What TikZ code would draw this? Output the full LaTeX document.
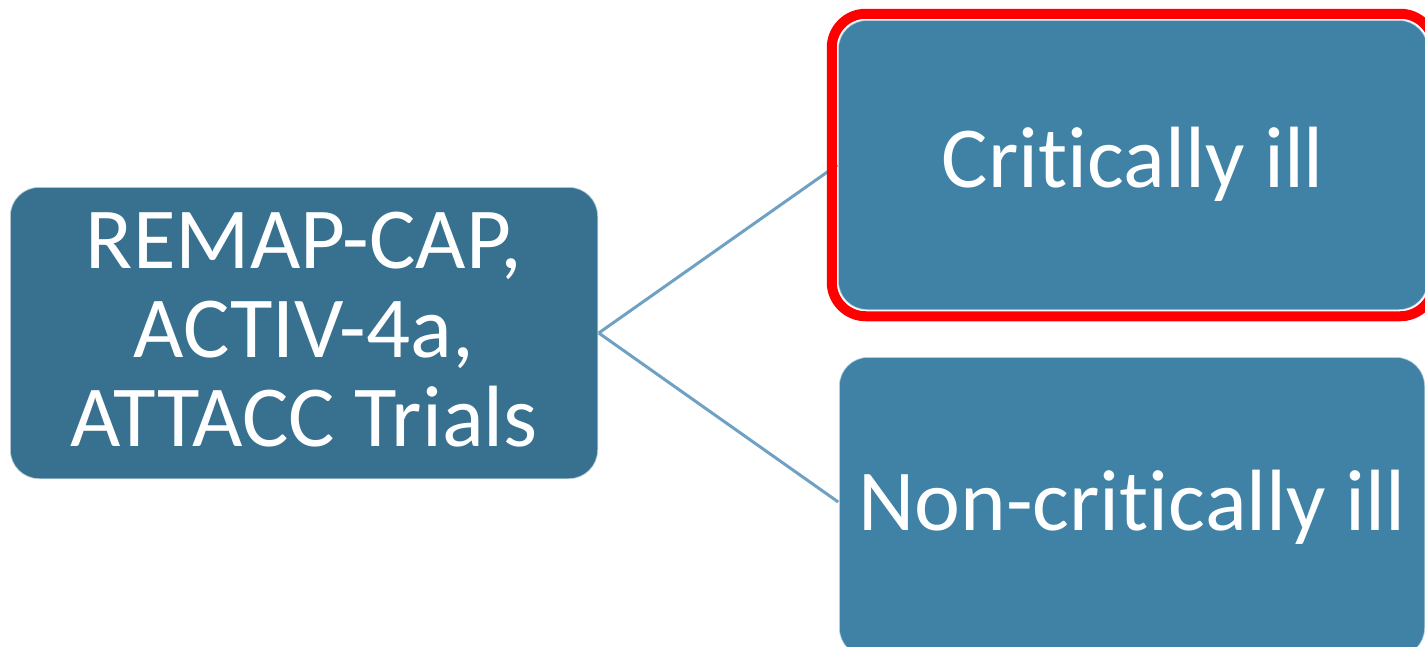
\documentclass[tikz,border=0pt]{standalone}
\usepackage{fontspec}
\setmainfont{Carlito}[Ligatures={NoCommon}]
\usetikzlibrary{fit}

\definecolor{trialfill}{HTML}{37718F}
\definecolor{groupfill}{HTML}{3F82A6}
\definecolor{linkblue}{HTML}{6FA1C3}
\definecolor{hilite}{HTML}{FF0000}

\tikzset{
  panel/.style={rectangle, rounded corners=29pt, inner sep=0pt,
    draw=white, draw opacity=0.6, line width=1.5pt,
    text=white, align=center,
    font=\fontsize{87}{89}\selectfont},
  link/.style={draw=linkblue, line width=3pt},
  highlight/.style={rectangle, rounded corners=34pt, draw=hilite,
    line width=10pt, inner sep=5.5pt}
}

\begin{document}
\begin{tikzpicture}[x=1pt, y=-1pt]
  \useasboundingbox (0,0) rectangle (1425,646);
  \clip (0,0) rectangle (1425,646);

  % source node: the three trials
  \node[panel, fill=trialfill, minimum width=588pt, minimum height=292pt,
        text height=234pt, text depth=8pt] (trials) at (304,333)
        {REMAP-CAP,\\ACTIV-4a,\\ATTACC Trials};

  % patient groups
  \node[panel, fill=groupfill, minimum width=590pt, minimum height=290pt,
        text height=56pt, text depth=12pt] (critical) at (1133,165)
        {Critically ill};
  \node[panel, fill=groupfill, minimum width=586pt, minimum height=300pt,
        text height=56pt, text depth=10pt] (noncritical) at (1132,507)
        {Non-critically ill};

  % branches
  \draw[link] (trials.east) -- (critical.west);
  \draw[link] (trials.east) -- ([yshift=5pt]noncritical.west);

  % emphasis frame around the critically ill group
  \node[highlight, fit=(critical)] (focus) {};
\end{tikzpicture}
\end{document}
